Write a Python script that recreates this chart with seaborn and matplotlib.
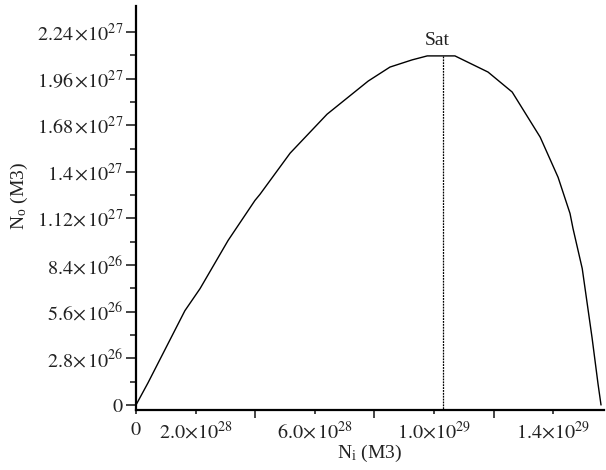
import matplotlib
matplotlib.use("Agg")
import matplotlib.pyplot as plt
import seaborn as sns
import pandas as pd
import numpy as np

# data (x in units of 1e28, y in units of 1e27)
ni = [0.0, 0.40, 1.64, 2.15, 3.09, 3.99, 4.16, 5.17, 6.41, 7.79, 8.52, 9.26, 9.77,
      10.70, 11.81, 12.62, 13.56, 14.16, 14.56, 14.66, 14.97, 15.30, 15.50, 15.60]
no = [0.0, 0.132, 0.566, 0.699, 0.988, 1.228, 1.265, 1.512, 1.746, 1.945, 2.029, 2.072, 2.096,
      2.096, 1.999, 1.879, 1.608, 1.367, 1.150, 1.060, 0.819, 0.403, 0.126, 0.0]
sat_x = 10.30
sat_y = 2.096
sat_label = "Sat"

xtick_vals = [0, 2, 6, 10, 14]
xtick_labels = [r"$0$", r"$2.0{\times}10^{28}$", r"$6.0{\times}\,10^{28}$", r"$1.0{\times}10^{29}$", r"$1.4{\times}10^{29}$"]
xminor_vals = [4, 8, 12]
ytick_vals = [0, 0.28, 0.56, 0.84, 1.12, 1.40, 1.68, 1.96, 2.24]
ytick_labels = [r"$0$", r"$2.8{\times}\,10^{26}$", r"$5.6{\times}\,10^{26}$", r"$8.4{\times}\,10^{26}$",
                r"$1.12{\times}\,10^{27}$", r"$1.4\,{\times}10^{27}$", r"$1.68\,{\times}10^{27}$",
                r"$1.96\,{\times}10^{27}$", r"$2.24\,{\times}10^{27}$"]
yminor_vals = [0.14, 0.42, 0.70, 0.98, 1.26, 1.54, 1.82, 2.10]

sns.set_style("ticks")
plt.rcParams['font.family'] = ['Liberation Serif', 'DejaVu Serif']
plt.rcParams['mathtext.fontset'] = 'stix'

fig = plt.figure(figsize=(6.06, 4.70), dpi=100)
ax = fig.add_axes([0.2244, 0.1277, 0.7723, 0.8593])

df = pd.DataFrame({"Ni": ni, "No": no})
sns.lineplot(data=df, x="Ni", y="No", ax=ax, color="black", linewidth=1.0, sort=False)
ax.plot([sat_x, sat_x], [sat_y, -0.03], color="black", linewidth=0.9, linestyle=(0, (1.5, 0.8)))
ax.text(sat_x - 0.2, sat_y + 0.04, sat_label, ha="center", va="bottom", fontsize=14, color="#222")

ax.set_xlim(0, 15.70)
ax.set_ylim(-0.03, 2.395)

ax.set_xticks(xtick_vals)
ax.set_xticklabels(xtick_labels)
ax.set_xticks(xminor_vals, minor=True)
ax.set_yticks(ytick_vals)
ax.set_yticklabels(ytick_labels)
ax.set_yticks(yminor_vals, minor=True)

ax.tick_params(axis="x", which="major", length=3, width=1.2, labelsize=14.5, colors="#222", pad=5)
ax.tick_params(axis="x", which="minor", length=6, width=1.2)
ax.tick_params(axis="y", which="major", length=7, width=1.2, labelsize=14.5, colors="#222", pad=2)
ax.tick_params(axis="y", which="minor", length=4, width=1.2)

for s in ["left", "bottom"]:
    ax.spines[s].set_linewidth(1.6)
    ax.spines[s].set_color("black")
sns.despine(ax=ax)

ax.set_xlabel(r"N$_\mathregular{i}$ (M3)", fontsize=14, color="#222", labelpad=0)
ax.set_ylabel(r"N$_\mathregular{o}$ (M3)", fontsize=14, color="#222")
ax.yaxis.set_label_coords(-0.226, 0.53)

fig.savefig("out.png", dpi=100)
